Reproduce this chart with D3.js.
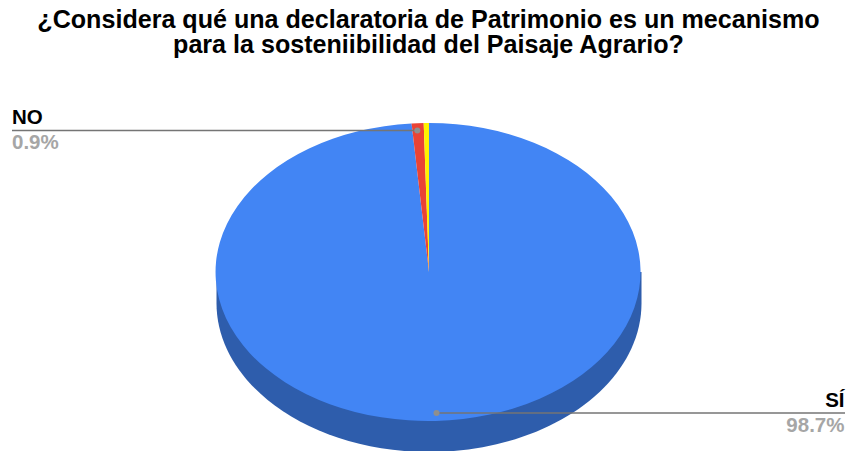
<!DOCTYPE html>
<html><head><meta charset="utf-8">
<script src="https://cdn.jsdelivr.net/npm/d3@7"></script>
<style>html,body{margin:0;padding:0;background:#fff;overflow:hidden}svg{display:block}text{font-family:"Liberation Sans",Arial,sans-serif}</style>
</head><body><svg id="c" width="849" height="451"></svg>
<script>
const titleLines = ["¿Considera qué una declaratoria de Patrimonio es un mecanismo","para la sosteniibilidad del Paisaje Agrario?"];
const categories = ["SÍ","NO","OTRO"];
const values = [98.7,0.9,0.4];
const colors = ["#4285f4","#ea4335","#fff200"];

const W=849,H=451,cx=429,cy=272,rx=212.5,ry=149,depth=31;
const svg=d3.select("#c");
svg.append("g").selectAll("text").data(titleLines).join("text")
  .attr("x",428.5).attr("y",(d,i)=>27.5+i*25).attr("text-anchor","middle")
  .attr("font-size",25.1).attr("font-weight","bold").attr("fill","#000").text(d=>d);

const pie=d3.pie().sort(null).value(d=>d)(values);
const arc=d3.arc().innerRadius(0).outerRadius(1);

// Side wall
const side=d3.path();
side.moveTo(cx-rx,cy);
side.lineTo(cx-rx,cy+depth);
side.bezierCurveTo(cx-rx,cy+depth+ry*0.5523,cx-rx*0.5523,cy+depth+ry,cx,cy+depth+ry);
side.bezierCurveTo(cx+rx*0.5523,cy+depth+ry,cx+rx,cy+depth+ry*0.5523,cx+rx,cy+depth);
side.lineTo(cx+rx,cy);
side.closePath();
svg.append("path").attr("d",side.toString()).attr("fill","#2e5dac");

// Top face
svg.append("g").attr("transform",`translate(${cx},${cy}) scale(${rx},${ry})`)
  .selectAll("path").data(pie).join("path")
  .attr("d",arc).attr("fill",(d,i)=>colors[i]);

// Leaders
const leaders=[
 {name:categories[1],val:values[1],x0:12,x1:417.3,dot:417.3,y:130.5,anchor:"start",tx:12,ny:124,vy:149},
 {name:categories[0],val:values[0],x0:436.5,x1:845,dot:436.5,y:413,anchor:"end",tx:844.5,ny:406.5,vy:431.5}
];
const lead=svg.append("g");
leaders.forEach(l=>{
  lead.append("line").attr("x1",l.x0).attr("x2",l.x1).attr("y1",l.y).attr("y2",l.y)
    .attr("stroke","#757575").attr("stroke-width",1.3);
  lead.append("circle").attr("cx",l.dot).attr("cy",l.y).attr("r",3).attr("fill","#8f8f8f");
  lead.append("text").attr("x",l.tx).attr("y",l.ny).attr("text-anchor",l.anchor)
    .attr("font-size",20.5).attr("font-weight","bold").attr("fill","#000").text(l.name);
  lead.append("text").attr("x",l.tx).attr("y",l.vy).attr("text-anchor",l.anchor)
    .attr("font-size",20.5).attr("font-weight","bold").attr("fill","#a6a6a6").text(l.val.toFixed(1)+"%");
});
</script></body></html>
